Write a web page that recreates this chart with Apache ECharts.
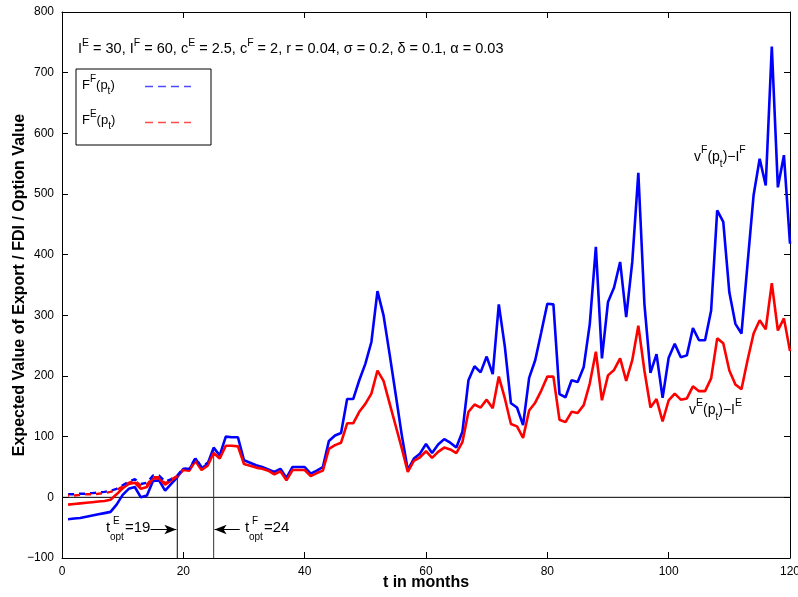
<!DOCTYPE html>
<html><head><meta charset="utf-8">
<script src="https://cdn.jsdelivr.net/npm/echarts@6/dist/echarts.min.js"></script>
<style>html,body{margin:0;padding:0;background:#fff}#c{width:798px;height:597px}</style>
</head><body><div id="c"></div>
<script>
// ---- data ----
const months = Array.from({length:120},(_,i)=>i+1);
const vF_minus_IF = [
 -36,-35,-34,-32,-30,-28,-26,-24,-12,4,
 14,17,0,3,27,28,11,22,33,47,
 46,64,48,55,82,69,100,99,99,61,
 57,53,50,46,42,47,32,50,50,50,
 39,44,50,93,102,106,162,162,193,220,
 256,340,300,236,170,103,45,64,72,88,
 73,87,96,90,82,108,193,216,206,232,
 203,318,248,155,148,119,197,226,272,319,
 318,170,165,193,190,215,286,413,229,322,
 346,388,297,388,535,319,205,236,164,230,
 253,231,234,279,259,259,308,473,454,338,
 286,270,385,498,558,514,743,511,564,418];
const vE_minus_IE = [
 -12,-11,-10,-9,-8,-7,-6,-4,5,15,
 22,24,14,17,31,31,21,28,35,45,
 44,60,45,52,73,64,85,85,84,55,
 52,49,47,44,38,43,28,45,45,45,
 35,40,44,80,86,90,122,122,141,154,
 171,209,192,155,118,81,42,60,66,76,
 65,75,82,79,73,91,141,153,148,161,
 147,199,163,121,117,98,143,156,176,199,
 199,128,124,141,139,152,188,240,160,201,
 210,229,192,226,283,209,148,162,125,160,
 171,161,163,183,175,175,196,262,254,209,
 186,178,226,270,292,277,353,275,295,241];
const FF_option = [5,5,6,6,7,8,9,11,14,20,26,30,22,24,36,36,26,30,36,48,47,65,50,57];
const FE_option = [3,3,4,5,5,6,7,9,12,18,24,28,19,21,33,33,23,29,35];
const tOptE = 19, tOptF = 25;
const tOptE_top = 36, tOptF_top = 82;
const xMin = 0, xMax = 120, xStep = 20;
const yMin = -100, yMax = 800, yStep = 100;

const pair = (xs, ys) => ys.map((v,i)=>[xs[i], v]);

const FONT = 'Liberation Sans, Arial, Helvetica, sans-serif';
const chart = echarts.init(document.getElementById('c'), null, {renderer:'canvas'});

const axisCommon = {
  axisLine:{show:true, onZero:false, lineStyle:{color:'#000', width:1}},
  axisTick:{show:true, inside:true, length:6, lineStyle:{color:'#000'}},
  splitLine:{show:false}
};

const option = {
  animation:false,
  backgroundColor:'#fff',
  grid:{left:62, right:8, top:12, bottom:39, containLabel:false, outerBoundsMode:'none'},
  xAxis:[
    Object.assign({type:'value', min:xMin, max:xMax, interval:xStep, position:'bottom',
      axisLabel:{color:'#000', fontSize:12, fontFamily:FONT, margin:8},
      name:'t in months', nameLocation:'middle', nameGap:17, nameMoveOverlap:false,
      nameTextStyle:{color:'#000', fontSize:16, fontWeight:'bold', fontFamily:FONT}}, axisCommon),
    Object.assign({type:'value', min:xMin, max:xMax, interval:xStep, position:'top',
      axisLabel:{show:false}}, axisCommon)
  ],
  yAxis:[
    Object.assign({type:'value', min:yMin, max:yMax, interval:yStep, position:'left',
      axisLabel:{color:'#000', fontSize:12, fontFamily:FONT, margin:8,
        formatter: v => v < 0 ? '\u2212' + Math.abs(v) : String(v)},
      name:'Expected Value of Export / FDI / Option Value', nameLocation:'middle', nameGap:34, nameRotate:90,
      nameMoveOverlap:false,
      nameTextStyle:{color:'#000', fontSize:16, fontWeight:'bold', fontFamily:FONT}}, axisCommon),
    Object.assign({type:'value', min:yMin, max:yMax, interval:yStep, position:'right',
      axisLabel:{show:false}}, axisCommon)
  ],
  series:[
    {type:'line', name:'zero', data:[[xMin,0],[xMax,0]], symbol:'none', silent:true,
      lineStyle:{color:'#000', width:1}, z:1},
    {type:'line', name:'vF-IF', data:pair(months, vF_minus_IF), symbol:'none',
      lineStyle:{color:'#0000ff', width:2.6}, z:3},
    {type:'line', name:'vE-IE', data:pair(months, vE_minus_IE), symbol:'none',
      lineStyle:{color:'#ff0000', width:2.6}, z:4},
    {type:'line', name:'FF', data:pair(months, FF_option), symbol:'none',
      lineStyle:{color:'#0000ff', width:2.4, type:[6,5]}, z:5},
    {type:'line', name:'FE', data:pair(months, FE_option), symbol:'none',
      lineStyle:{color:'#ff0000', width:2.4, type:[6,5], dashOffset:5}, z:6},
    {type:'line', name:'tE', data:[[tOptE,yMin],[tOptE,tOptE_top]], symbol:'none', silent:true,
      lineStyle:{color:'#000', width:1}, z:2,
      markLine:{silent:true, symbol:['none','arrow'], symbolSize:[7,12], label:{show:false},
        lineStyle:{color:'#000', width:1, type:'solid'},
        data:[[{coord:[14.6,-53]},{coord:[tOptE-0.15,-53]}]]}},
    {type:'line', name:'tF', data:[[tOptF,yMin],[tOptF,tOptF_top]], symbol:'none', silent:true,
      lineStyle:{color:'#333', width:1}, z:2,
      markLine:{silent:true, symbol:['none','arrow'], symbolSize:[7,12], label:{show:false},
        lineStyle:{color:'#000', width:1, type:'solid'},
        data:[[{coord:[29.3,-53]},{coord:[tOptF+0.15,-53]}]]}}
  ]
};
chart.setOption(option);

// ---- annotations (text) ----
const n14 = {fontSize:14.5, lineHeight:22, fontFamily:FONT, fill:'#000', verticalAlign:'middle'};
const sup10 = {fontSize:10.5, lineHeight:10, fontFamily:FONT, verticalAlign:'top'};
const sub10 = {fontSize:10, lineHeight:10, fontFamily:FONT, verticalAlign:'bottom'};
const n12 = {fontSize:13, lineHeight:22, fontFamily:FONT, verticalAlign:'middle'};
const sup9 = {fontSize:10, lineHeight:10, fontFamily:FONT, verticalAlign:'top'};
const sub9 = {fontSize:10, lineHeight:10, fontFamily:FONT, verticalAlign:'bottom'};
const n13 = {fontSize:14, lineHeight:24, fontFamily:FONT, verticalAlign:'middle'};
const sup10b = {fontSize:10.5, lineHeight:10, fontFamily:FONT, verticalAlign:'top'};

function rt(x, y, text, rich){
  return {type:'text', x:x, y:y, silent:true, z:100,
    style:{text:text, rich:rich, fill:'#000', verticalAlign:'middle'}};
}
function pt(x, y, s, size){
  return {type:'text', x:x, y:y, silent:true, z:100,
    style:{text:s, fill:'#000', font:size+'px '+FONT, verticalAlign:'middle', align:'left'}};
}

const params = '{n|I}{s|E}{n| = 30, I}{s|F}{n| = 60, c}{s|E}{n| = 2.5, c}{s|F}{n| = 2, r = 0.04, \u03c3 = 0.2, \u03b4 = 0.1, \u03b1 = 0.03}';

const graphics = [
  rt(78, 49, params, {n:n14, s:sup10}),
  {type:'rect', shape:{x:76, y:69, width:135, height:76}, silent:true, z:90,
    style:{fill:'#fff', stroke:'#000', lineWidth:1}},
  rt(82, 85, '{n|F}{s|F}{n|(p}{b|t}{n|)}', {n:n12, s:sup9, b:sub9}),
  rt(82, 120, '{n|F}{s|E}{n|(p}{b|t}{n|)}', {n:n12, s:sup9, b:sub9}),
  {type:'line', shape:{x1:145, y1:86.5, x2:191, y2:86.5}, silent:true, z:95,
    style:{stroke:'#4d4dff', lineWidth:1.3, lineDash:[8,5]}},
  {type:'line', shape:{x1:145, y1:122.5, x2:191, y2:122.5}, silent:true, z:95,
    style:{stroke:'#ff4d4d', lineWidth:1.3, lineDash:[8,5]}},
  rt(694, 157, '{n|v}{s|F}{n|(p}{b|t}{n|)\u2212I}{s|F}', {n:n13, s:sup10b, b:sub10}),
  rt(689, 410, '{n|v}{s|E}{n|(p}{b|t}{n|)\u2212I}{s|E}', {n:n13, s:sup10b, b:sub10}),
  // t_opt labels
  pt(106, 528, 't', 15),
  pt(113, 521, 'E', 10),
  pt(110, 537, 'opt', 10),
  pt(125, 528, '=19', 15),
  pt(245, 528, 't', 15),
  pt(252, 521, 'F', 10),
  pt(249, 537, 'opt', 10),
  pt(264, 528, '=24', 15)
];
chart.setOption({graphic:{elements:graphics}});
</script>
</body></html>
